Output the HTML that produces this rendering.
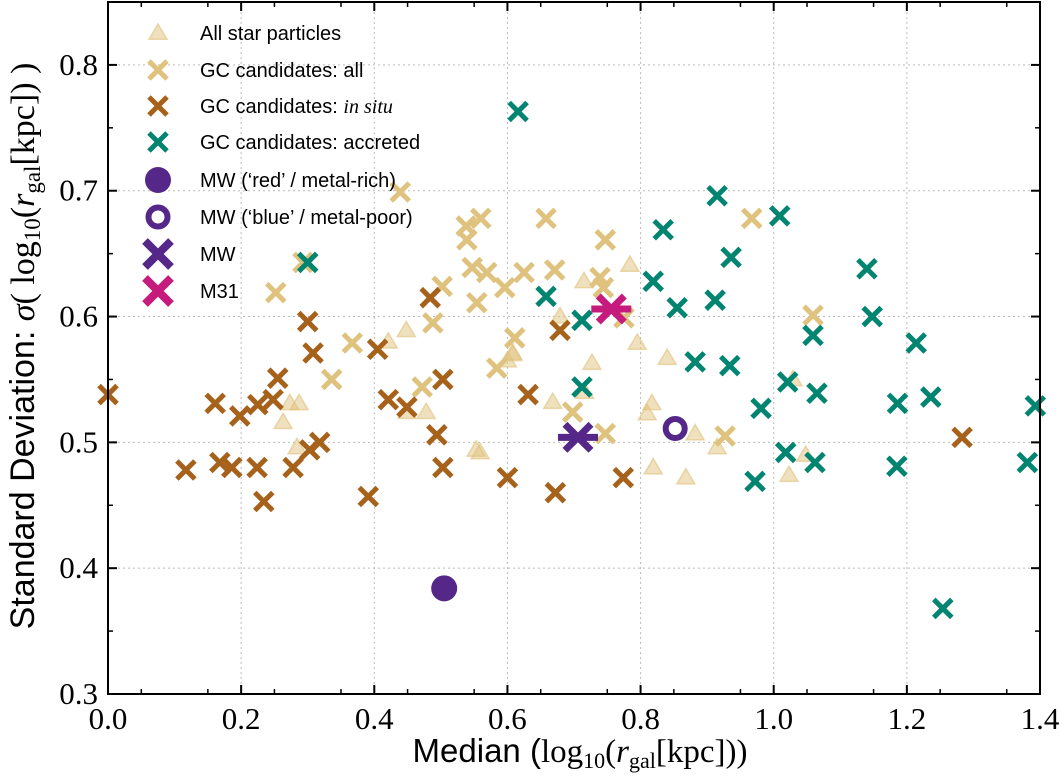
<!DOCTYPE html>
<html><head><meta charset="utf-8">
<style>
html,body{margin:0;padding:0;background:#fff;}
svg{display:block;}
</style></head>
<body>
<svg id="chart" width="1059" height="780" viewBox="0 0 1059 780" xmlns="http://www.w3.org/2000/svg">
<g id="grid"></g>
<g id="marks"></g>
<rect x="108" y="2" width="932" height="692" fill="none" stroke="#000" stroke-width="2"/>
<g id="axes"></g>
<g id="legend"></g>
<text x="580" y="762" text-anchor="middle" font-family="Liberation Sans, sans-serif" font-size="33">Median (<tspan font-family="Liberation Serif, serif">log<tspan font-size="22" dy="6">10</tspan><tspan dy="-6">(</tspan><tspan font-style="italic">r</tspan><tspan font-size="22" dy="6">gal</tspan><tspan dy="-6">[kpc]))</tspan></tspan></text>
<text transform="translate(34,346) rotate(-90)" text-anchor="middle" font-family="Liberation Sans, sans-serif" font-size="34">Standard Deviation: <tspan font-family="Liberation Serif, serif"><tspan font-style="italic">σ</tspan>( log<tspan font-size="23" dy="6">10</tspan><tspan dy="-6">(</tspan><tspan font-style="italic">r</tspan><tspan font-size="23" dy="6">gal</tspan><tspan dy="-6">[kpc]) )</tspan></tspan></text>
</svg>
<script>
const xTicks = [0.0,0.2,0.4,0.6,0.8,1.0,1.2,1.4];
const yTicks = [0.3,0.4,0.5,0.6,0.7,0.8];
const starX = [0.273,0.287,0.263,0.284,0.448,0.421,0.478,0.449,0.553,0.608,0.784,0.715,0.679,0.795,0.727,0.840,0.608,0.600,0.668,0.716,0.817,0.810,0.882,0.915,0.819,0.868,1.029,1.048,1.023,0.559];
const starY = [0.531,0.531,0.516,0.496,0.589,0.580,0.524,0.524,0.494,0.571,0.641,0.628,0.600,0.579,0.563,0.567,0.570,0.565,0.532,0.540,0.531,0.523,0.507,0.496,0.480,0.472,0.550,0.490,0.474,0.492];
const allX = [0.252,0.293,0.367,0.336,0.472,0.488,0.502,0.439,0.539,0.554,0.547,0.569,0.596,0.611,0.584,0.538,0.560,0.658,0.625,0.671,0.747,0.739,0.744,0.775,0.698,0.747,0.927,1.059,0.967];
const allY = [0.619,0.643,0.579,0.550,0.544,0.595,0.624,0.699,0.661,0.611,0.639,0.635,0.623,0.583,0.559,0.672,0.678,0.678,0.635,0.637,0.661,0.631,0.623,0.599,0.524,0.507,0.505,0.601,0.678];
const insituX = [0.0,0.117,0.161,0.168,0.186,0.198,0.224,0.234,0.225,0.248,0.255,0.278,0.318,0.303,0.300,0.308,0.391,0.405,0.421,0.449,0.484,0.494,0.503,0.503,0.600,0.631,0.679,0.672,0.774,1.283];
const insituY = [0.538,0.478,0.531,0.484,0.480,0.521,0.480,0.453,0.530,0.534,0.551,0.480,0.500,0.494,0.596,0.571,0.457,0.574,0.534,0.528,0.615,0.506,0.550,0.480,0.472,0.538,0.589,0.460,0.472,0.504];
const accX = [0.616,0.300,0.658,0.712,0.712,0.834,0.819,0.855,0.912,0.936,0.882,0.934,0.915,1.009,1.021,1.059,1.065,0.981,1.018,1.062,0.972,1.140,1.148,1.214,1.186,1.236,1.185,1.254,1.393,1.381];
const accY = [0.763,0.643,0.616,0.597,0.544,0.669,0.628,0.607,0.613,0.647,0.564,0.561,0.696,0.680,0.548,0.585,0.539,0.527,0.492,0.484,0.469,0.638,0.600,0.579,0.531,0.536,0.481,0.368,0.529,0.484];
const mwRed = [0.505,0.384];
const mwBlue = [0.852,0.511];
const mwAll = [0.706,0.504];
const m31 = [0.756,0.606];

const NS='http://www.w3.org/2000/svg';
const X0=108,X1=1040,Y0=694,Y1=2;
function sx(v){return X0+(v-0)/(1.4-0)*(X1-X0);}
function sy(v){return Y0-(v-0.3)/(0.85-0.3)*(Y0-Y1);}
function mk(tag,attrs,parent){const e=document.createElementNS(NS,tag);for(const k in attrs)e.setAttribute(k,attrs[k]);parent.appendChild(e);return e;}
const grid=document.getElementById('grid'),marks=document.getElementById('marks'),axes=document.getElementById('axes'),legend=document.getElementById('legend');

xTicks.forEach(t=>{
  const x=sx(t);
  if(t>0&&t<1.4){const g=mk('line',{x1:x,x2:x,y1:Y1,y2:Y0,stroke:'#bbb','stroke-width':1,'stroke-dasharray':'2,3'},grid);
  
  }
  [[Y0,Y0-9],[Y1,Y1+9]].forEach(p=>{const l=mk('line',{x1:x,x2:x,y1:p[0],y2:p[1],stroke:'#000','stroke-width':2},axes);
  
  });
  const tx=mk('text',{x:x,y:729,'text-anchor':'middle','font-family':'Liberation Serif, serif','font-size':31},axes);
  
  
  tx.textContent=t.toFixed(1);
});
for(let t=0.05;t<1.4;t+=0.1){const x=sx(t);[[Y0,Y0-5],[Y1,Y1+5]].forEach(p=>{const l=mk('line',{x1:x,x2:x,y1:p[0],y2:p[1],stroke:'#000','stroke-width':1.5},axes);
  
  });}
yTicks.forEach(t=>{
  const y=sy(t);
  if(t>0.3){const g=mk('line',{x1:X0,x2:X1,y1:y,y2:y,stroke:'#bbb','stroke-width':1,'stroke-dasharray':'2,3'},grid);
  
  }
  [[X0,X0+9],[X1,X1-9]].forEach(p=>{const l=mk('line',{x1:p[0],x2:p[1],y1:y,y2:y,stroke:'#000','stroke-width':2},axes);
  
  });
  const tx=mk('text',{x:98,y:y+10,'text-anchor':'end','font-family':'Liberation Serif, serif','font-size':31},axes);
  
  
  tx.textContent=t.toFixed(1);
});
for(let t=0.35;t<0.85;t+=0.1){const y=sy(t);[[X0,X0+5],[X1,X1-5]].forEach(p=>{const l=mk('line',{x1:p[0],x2:p[1],y1:y,y2:y,stroke:'#000','stroke-width':1.5},axes);
  
  });}

function tri(x,y,parent,name){const r=9;const p=mk('polygon',{points:`${x},${y-r} ${x-r},${y+r*0.7} ${x+r},${y+r*0.7}`,fill:'#dfc27d','fill-opacity':0.5,stroke:'#dfc27d','stroke-opacity':0.6,'stroke-width':1.5},parent);
  
  return p;}
function cross(x,y,c,parent,name,r,w){r=r||9;w=w||5;const g=mk('path',{d:`M${x-r},${y-r}L${x+r},${y+r}M${x-r},${y+r}L${x+r},${y-r}`,stroke:c,'stroke-width':w,fill:'none'},parent);
  
  return g;}
function star(x,y,c,parent,name){const g=mk('path',{d:`M${x-13},${y-13}L${x+13},${y+13}M${x-13},${y+13}L${x+13},${y-13}M${x-20},${y}L${x+20},${y}`,stroke:c,'stroke-width':7,fill:'none'},parent);
  
  return g;}

starX.forEach((v,i)=>tri(sx(v),sy(starY[i]),marks,'star-particle-point'));
allX.forEach((v,i)=>cross(sx(v),sy(allY[i]),'#dfc27d',marks,'gc-all-point'));
insituX.forEach((v,i)=>cross(sx(v),sy(insituY[i]),'#a6611a',marks,'gc-insitu-point'));
accX.forEach((v,i)=>cross(sx(v),sy(accY[i]),'#018571',marks,'gc-accreted-point'));
const c1=mk('circle',{cx:sx(mwRed[0]),cy:sy(mwRed[1]),r:13,fill:'#542788'},marks);


const c2=mk('circle',{cx:sx(mwBlue[0]),cy:sy(mwBlue[1]),r:9.5,fill:'#fff',stroke:'#542788','stroke-width':6},marks);


star(sx(mwAll[0]),sy(mwAll[1]),'#542788',marks,'mw-point');
star(sx(m31[0]),sy(m31[1]),'#c51b7d',marks,'m31-point');

const labels=['All star particles','GC candidates: all','GC candidates: ','GC candidates: accreted',"MW (‘red’ / metal-rich)","MW (‘blue’ / metal-poor)",'MW','M31'];
const rowsY=[33,70,106,142,180,217,254,291];
labels.forEach((s,i)=>{
  const y=rowsY[i],x=158;
  if(i==0)tri(x,y,legend,'legend-marker-stars');
  else if(i==1)cross(x,y,'#dfc27d',legend,'legend-marker-gc-all');
  else if(i==2)cross(x,y,'#a6611a',legend,'legend-marker-insitu');
  else if(i==3)cross(x,y,'#018571',legend,'legend-marker-accreted');
  else if(i==4){const c=mk('circle',{cx:x,cy:y,r:13,fill:'#542788'},legend);
    
    }
  else if(i==5){const c=mk('circle',{cx:x,cy:y,r:9.5,fill:'#fff',stroke:'#542788','stroke-width':6},legend);
    
    }
  else if(i==6)cross(x,y,'#542788',legend,'legend-marker-mw',13,8);
  else cross(x,y,'#c51b7d',legend,'legend-marker-m31',13,8);
  const t=mk('text',{x:200,y:y+7,'font-family':'Liberation Sans, sans-serif','font-size':20},legend);
  
  
  t.textContent=s;
  if(i==2){const ts=mk('tspan',{'font-family':'Liberation Serif, serif','font-style':'italic'},t);ts.textContent='in situ';}
});
</script>
</body></html>
